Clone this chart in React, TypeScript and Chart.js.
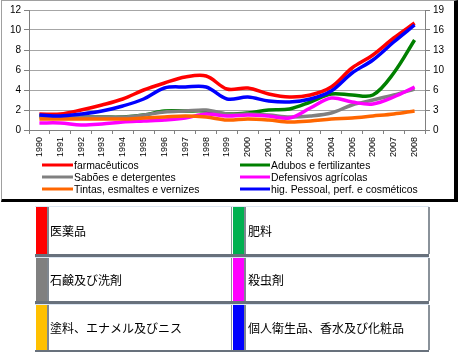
import React, { useEffect, useRef } from 'react';
import { Chart, registerables } from 'chart.js';
Chart.register(...registerables);

const years = ['1990','1991','1992','1993','1994','1995','1996','1997','1998','1999','2000','2001','2002','2003','2004','2005','2006','2007','2008'];
const rightTickLabels = ['0','3','6','10','13','16','19'];

const seriesNames = [
  'farmacêuticos',
  'Adubos e fertilizantes',
  'Sabões e detergentes',
  'Defensivos agrícolas',
  'Tintas, esmaltes e vernizes',
  'hig. Pessoal, perf. e cosméticos',
];
const seriesColors = ['#ff0000', '#008000', '#808080', '#ff00ff', '#ff6600', '#0000ff'];

const farmaceuticos = [1.6, 1.6, 2.0, 2.5, 3.1, 4.0, 4.7, 5.3, 5.4, 4.1, 4.2, 3.6, 3.3, 3.5, 4.3, 6.2, 7.5, 9.2, 10.7];
const adubos = [1.4, 1.3, 1.3, 1.3, 1.3, 1.5, 1.9, 1.9, 1.9, 1.6, 1.7, 2.0, 2.1, 2.8, 3.6, 3.5, 3.5, 5.7, 9.0];
const saboes = [1.3, 1.3, 1.3, 1.3, 1.3, 1.5, 1.8, 1.9, 2.0, 1.6, 1.6, 1.5, 1.3, 1.4, 1.7, 2.5, 3.0, 3.5, 4.1];
const defensivos = [0.7, 0.7, 0.5, 0.6, 0.8, 0.9, 1.0, 1.2, 1.6, 1.4, 1.5, 1.4, 1.2, 2.2, 3.2, 2.8, 2.6, 3.3, 4.3];
const tintas = [1.1, 1.1, 1.1, 1.1, 1.1, 1.2, 1.3, 1.4, 1.3, 1.0, 1.1, 1.0, 0.8, 0.9, 1.1, 1.2, 1.4, 1.6, 1.9];
const higiene = [1.5, 1.4, 1.6, 1.9, 2.4, 3.1, 4.2, 4.3, 4.3, 3.1, 3.3, 2.9, 2.8, 3.1, 3.9, 5.7, 7.0, 8.8, 10.5];

const seriesValues = [farmaceuticos, adubos, saboes, defensivos, tintas, higiene];

const tableLabels = ['医薬品', '肥料', '石鹸及び洗剤', '殺虫剤', '塗料、エナメル及びニス', '個人衛生品、香水及び化粧品'];
const tableColors = ['#ff0000', '#00b050', '#808080', '#ff00ff', '#ffc000', '#0000ff'];

const FONT = '"Liberation Sans", Arial, sans-serif';

const legendPlugin = {
  id: 'gridLegend',
  afterDraw(chart: any) {
    const ctx = chart.ctx;
    const ds = chart.data.datasets;
    const rowsY = [165, 177, 189];
    const cols = [{ x0: 42, x1: 73, tx: 74 }, { x0: 240, x1: 270, tx: 271 }];
    ctx.save();
    ctx.font = '10.4px ' + FONT;
    ctx.textBaseline = 'middle';
    ctx.textAlign = 'left';
    ds.forEach((d: any, i: number) => {
      const c = cols[i % 2];
      const y = rowsY[Math.floor(i / 2)];
      ctx.strokeStyle = d.borderColor;
      ctx.lineWidth = 3;
      ctx.beginPath();
      ctx.moveTo(c.x0, y);
      ctx.lineTo(c.x1, y);
      ctx.stroke();
      ctx.fillStyle = '#000';
      ctx.fillText(d.label, c.tx, y + 1);
    });
    ctx.restore();
  },
};

function LineChart() {
  const ref = useRef<HTMLCanvasElement>(null);
  useEffect(() => {
    if (!ref.current) return;
    const chart = new Chart(ref.current, {
      type: 'line',
      data: {
        labels: years,
        datasets: seriesNames.map((name, i) => ({
          label: name,
          data: seriesValues[i],
          borderColor: seriesColors[i],
          backgroundColor: seriesColors[i],
          borderWidth: 3.5,
          pointRadius: 0,
          tension: 0.35,
          fill: false,
          order: seriesNames.length - 1 - i,
          yAxisID: 'y',
        })),
      },
      options: {
        responsive: false,
        animation: false,
        layout: { padding: { top: 10, left: 0, right: 0, bottom: 0 } },
        plugins: { legend: { display: false }, tooltip: { enabled: false } },
        scales: {
          x: {
            type: 'category',
            offset: true,
            grid: { drawOnChartArea: false, drawTicks: true, tickLength: 4, color: '#808080', offset: true },
            border: { color: '#808080' },
            ticks: { font: { size: 9, family: FONT }, color: '#000', minRotation: 90, maxRotation: 90, padding: 3, autoSkip: false },
            afterFit: (s: any) => { s.height = 70; },
          },
          y: {
            position: 'left',
            min: 0,
            max: 12,
            ticks: { stepSize: 2, font: { size: 10, family: FONT }, color: '#000', padding: 3 },
            grid: { color: '#a6a6a6', tickLength: 5, tickColor: '#808080' },
            border: { color: '#808080' },
            afterFit: (s: any) => { s.width = 29; },
          },
          y2: {
            position: 'right',
            min: 0,
            max: 12,
            ticks: {
              stepSize: 2,
              font: { size: 10, family: FONT },
              color: '#000',
              padding: 3,
              callback: (_v: any, i: number) => rightTickLabels[i],
            },
            grid: { drawOnChartArea: false, tickLength: 5, color: '#808080' },
            border: { color: '#808080' },
            afterFit: (s: any) => { s.width = 34; },
          },
        },
      } as any,
      plugins: [legendPlugin],
    });
    return () => chart.destroy();
  }, []);
  return <canvas ref={ref} width={459} height={200} style={{ position: 'absolute', left: 0, top: 0, width: 459, height: 200 }} />;
}

function Table() {
  const rows = [
    { top: 207, h: 47 },
    { top: 258, h: 43 },
    { top: 305, h: 45 },
  ];
  const light = '#dce6f2';
  const sep = '#68717c';
  const els: any[] = [];
  els.push(<div key="topline" style={{ position: 'absolute', left: 35, top: 206, width: 394, height: 1, background: light }} />);
  rows.forEach((r, ri) => {
    [0, 1].forEach((c) => {
      const idx = ri * 2 + c;
      const barLeft = c === 0 ? 36 : 233;
      const cellLeft = c === 0 ? 49 : 247;
      const cellRight = c === 0 ? 231 : 428;
      els.push(<div key={`bar${idx}`} style={{ position: 'absolute', left: barLeft, top: r.top, width: 11, height: r.h, background: tableColors[idx] }} />);
      els.push(<div key={`vl${idx}`} style={{ position: 'absolute', left: barLeft + 11, top: r.top, width: 2, height: r.h, background: '#7f8790' }} />);
      els.push(
        <div
          key={`cell${idx}`}
          style={{
            position: 'absolute',
            left: cellLeft,
            top: r.top,
            width: cellRight - cellLeft,
            height: r.h,
            background: '#fff',
            display: 'flex',
            alignItems: 'center',
            paddingLeft: 1,
            boxSizing: 'border-box',
            font: '12px "Noto Sans CJK JP", sans-serif',
            color: '#000',
            whiteSpace: 'nowrap',
          }}
        >
          {tableLabels[idx]}
        </div>
      );
      els.push(<div key={`rb${idx}`} style={{ position: 'absolute', left: cellRight, top: r.top, width: c === 0 ? 1 : 2, height: r.h, background: '#8a929a' }} />);
    });
    els.push(<div key={`sep${ri}`} style={{ position: 'absolute', left: 35, top: r.top + r.h, width: 394, height: ri === 2 ? 2 : 3, background: sep }} />);
    if (ri < 2) {
      els.push(<div key={`lt${ri}`} style={{ position: 'absolute', left: 35, top: r.top + r.h + 3, width: 394, height: 1, background: light }} />);
    }
  });
  return <>{els}</>;
}

export default function App() {
  return (
    <div style={{ position: 'fixed', left: 0, top: 0, width: 459, height: 355, background: '#fff', overflow: 'hidden' }}>
      <LineChart />
      <div
        style={{
          position: 'absolute',
          left: 1,
          top: 0,
          width: 452,
          height: 198,
          borderLeft: '1px solid #a0a0a0',
          borderTop: '1px solid #a0a0a0',
          borderRight: '4px solid #000',
          borderBottom: '3px solid #000',
          pointerEvents: 'none',
        }}
      />
      <Table />
    </div>
  );
}
